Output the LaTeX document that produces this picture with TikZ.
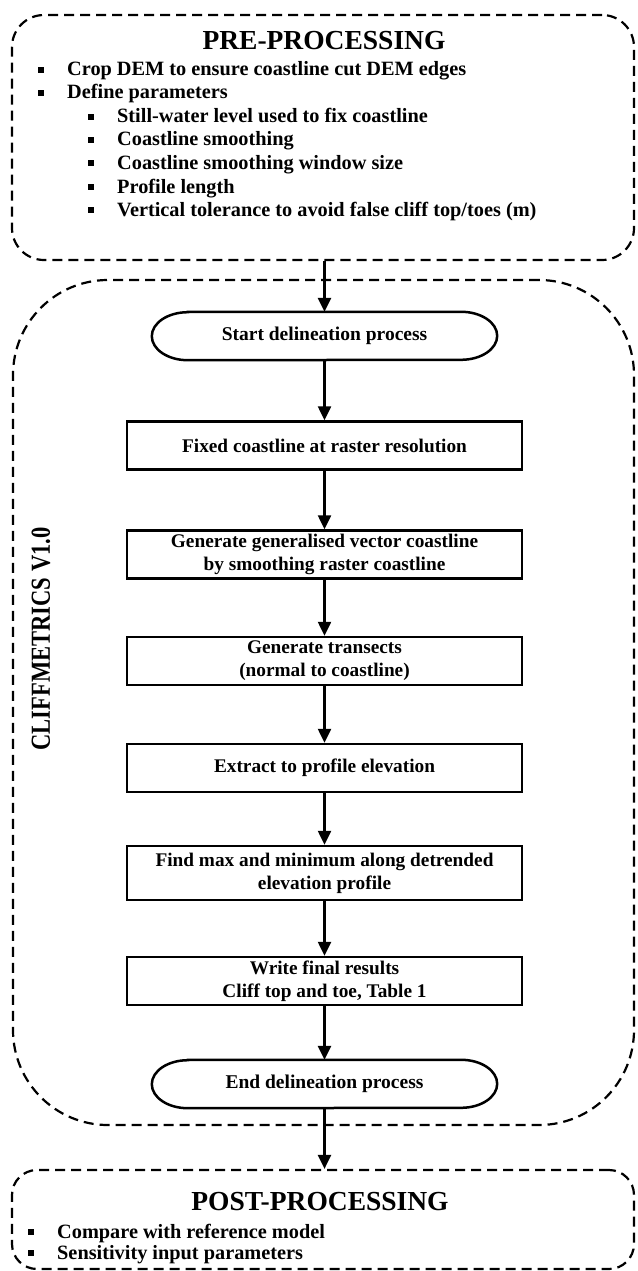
\documentclass[tikz,border=0pt]{standalone}
\usepackage{fontspec}
\setmainfont{Liberation Serif}
\usetikzlibrary{arrows.meta,positioning}

% square bullet with its gap to the text
\newcommand{\sqbul}{\makebox[29pt][l]{\rule[3pt]{6pt}{6pt}}}
% outline of a terminator node (flat top and bottom, elliptic ends)
\newcommand{\termline}[1]{%
  \draw[termline] ([xshift=36pt]#1.north west) -- ([xshift=-36pt]#1.north east)
    arc[start angle=90, end angle=-90, x radius=36pt, y radius=24pt]
    -- ([xshift=36pt]#1.south west)
    arc[start angle=270, end angle=90, x radius=36pt, y radius=24pt] -- cycle;}

\tikzset{
  group/.style={draw, line width=2.2pt, dash pattern=on 10pt off 6pt, inner sep=0pt},
  procbox/.style={draw, line width=2.5pt, minimum width=395pt, minimum height=48pt,
    align=center, inner sep=2pt, font=\fontsize{19.3}{23}\selectfont\bfseries},
  termbox/.style={minimum width=345pt, minimum height=48pt, inner sep=0pt,
    font=\fontsize{19.5}{23}\selectfont\bfseries},
  termline/.style={line width=2.5pt},
  flow/.style={line width=2.5pt, -{Triangle[length=14pt,width=13pt]}},
  head/.style={font=\fontsize{27.5}{30}\selectfont\bfseries, inner sep=0pt},
  item/.style={anchor=base west, inner sep=0pt, font=\fontsize{20.3}{24}\selectfont\bfseries},
}

\begin{document}
\begin{tikzpicture}[x=1pt, y=-1pt]
\useasboundingbox (0,0) rectangle (637,1271);

% Pre-processing
\node[group, rounded corners=32pt, minimum width=622pt, minimum height=245pt] (pre) at (323,137.5) {};
\node[head] (pretitle) at (324,41) {PRE-PROCESSING};
\node[item] (pre1) at (38,76) {\sqbul Crop DEM to ensure coastline cut DEM edges};
\node[item] (pre2) at (38,99) {\sqbul Define parameters};
\node[item] (pre3) at (88,123) {\sqbul Still-water level used to fix coastline};
\node[item] (pre4) at (88,146) {\sqbul Coastline smoothing};
\node[item] (pre5) at (88,169) {\sqbul Coastline smoothing window size};
\node[item] (pre6) at (88,193) {\sqbul Profile length};
\node[item] (pre7) at (88,216) {\sqbul Vertical tolerance to avoid false cliff top/toes (m)};

% CliffMetrics
\node[group, rounded corners=95pt, minimum width=621pt, minimum height=845pt] (cliff) at (323.5,702.5) {};
\node[head, rotate=90] (clifftitle) at (41,639) {\scalebox{0.82}[1]{CLIFFMETRICS V1.0}};

\node[termbox] (start) at (324.5,336) {Start delineation process};
\termline{start}
\node[procbox] (fix) at (324.5,445.5) {Fixed coastline at raster resolution};
\node[procbox] (smooth) at (324.5,554.5) {Generate generalised vector coastline\\by smoothing raster coastline};
\node[procbox] (trans) at (324.5,661) {Generate transects\\(normal to coastline)};
\node[procbox] (extract) at (324.5,768) {Extract to profile elevation};
\node[procbox, minimum height=54pt] (findmax) at (324.5,873) {Find max and minimum along detrended\\elevation profile};
\node[procbox] (write) at (324.5,981) {Write final results\\Cliff top and toe, Table 1};
\node[termbox] (finish) at (324.5,1084) {End delineation process};
\termline{finish}

% Post-processing
\node[group, rounded corners=25pt, minimum width=622pt, minimum height=99pt] (post) at (323,1219.5) {};
\node[head] (posttitle) at (320,1202) {POST-PROCESSING};
\node[item] (post1) at (28,1238) {\sqbul Compare with reference model};
\node[item] (post2) at (28,1259) {\sqbul Sensitivity input parameters};

% Flow
\draw[flow] (pre.south -| start.north) -- (start.north);
\draw[flow] (start.south) -- (fix.north);
\draw[flow] (fix) -- (smooth);
\draw[flow] (smooth) -- (trans);
\draw[flow] (trans) -- (extract);
\draw[flow] (extract) -- (findmax);
\draw[flow] (findmax) -- (write);
\draw[flow] (write.south) -- (finish.north);
\draw[flow] (finish.south) -- (post.north -| finish.south);

\end{tikzpicture}
\end{document}
